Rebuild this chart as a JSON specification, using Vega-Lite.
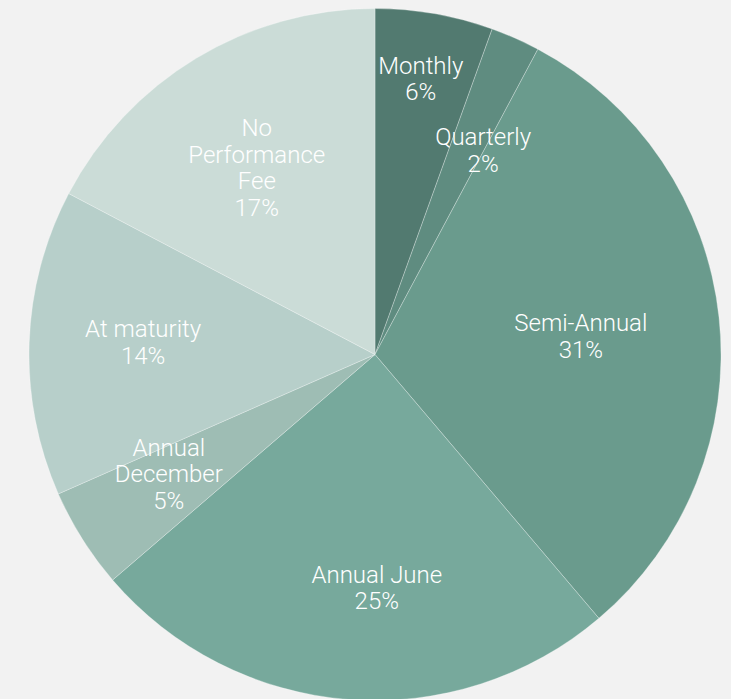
{
  "$schema": "https://vega.github.io/schema/vega-lite/v6.json",
  "width": 712,
  "height": 693,
  "padding": {"left": 19, "top": 6, "right": 0, "bottom": 0},
  "background": "#f2f2f2",
  "view": {"stroke": null},
  "config": {
    "text": {"font": "Roboto", "fontWeight": 300, "fontSize": 24, "lineBreak": "\n", "lineHeight": 26.5, "align": "center", "baseline": "middle", "color": "#ffffff"}
  },
  "data": {
    "values": [
      {"order": 1, "category": "Monthly", "name": "Monthly", "share": 5.5, "pct": "6%"},
      {"order": 2, "category": "Quarterly", "name": "Quarterly", "share": 2.3, "pct": "2%"},
      {"order": 3, "category": "Semi-Annual", "name": "Semi-Annual", "share": 31.0, "pct": "31%"},
      {"order": 4, "category": "Annual June", "name": "Annual June", "share": 24.9, "pct": "25%"},
      {"order": 5, "category": "Annual December", "name": "Annual\nDecember", "share": 4.7, "pct": "5%"},
      {"order": 6, "category": "At maturity", "name": "At maturity", "share": 14.3, "pct": "14%"},
      {"order": 7, "category": "No Performance Fee", "name": "No\nPerformance\nFee", "share": 17.3, "pct": "17%"}
    ]
  },
  "transform": [
    {"stack": "share", "groupby": [], "sort": [{"field": "order", "order": "ascending"}], "as": ["s0", "s1"]},
    {"calculate": "(datum.s0 + datum.s1) / 2", "as": "smid"},
    {"calculate": "datum.name + '\\n' + datum.pct", "as": "label"}
  ],
  "layer": [
    {
      "mark": {"type": "arc", "outerRadius": 346, "stroke": "#ffffff", "strokeWidth": 0.8, "strokeOpacity": 0.35},
      "encoding": {
        "theta": {"field": "s0", "type": "quantitative", "scale": {"domain": [0, 100]}},
        "theta2": {"field": "s1"},
        "color": {
          "field": "category",
          "type": "nominal",
          "legend": null,
          "scale": {
            "domain": ["Monthly", "Quarterly", "Semi-Annual", "Annual June", "Annual December", "At maturity", "No Performance Fee"],
            "range": ["#527a70", "#5f8c80", "#6a9b8d", "#77a99c", "#9ebdb4", "#b7cfca", "#cbdcd7"]
          }
        }
      }
    },
    {
      "transform": [{"filter": "datum.category == 'Monthly'"}],
      "mark": {"type": "text", "radius": 278, "dy": -14, "dx": -2},
      "encoding": {"theta": {"field": "smid", "type": "quantitative", "scale": {"domain": [0, 100]}}, "text": {"field": "label"}}
    },
    {
      "transform": [{"filter": "datum.category == 'Quarterly'"}],
      "mark": {"type": "text", "radius": 232, "dy": -4, "dx": 14},
      "encoding": {"theta": {"field": "smid", "type": "quantitative", "scale": {"domain": [0, 100]}}, "text": {"field": "label"}}
    },
    {
      "transform": [{"filter": "datum.category == 'Semi-Annual'"}],
      "mark": {"type": "text", "radius": 207, "dy": -8},
      "encoding": {"theta": {"field": "smid", "type": "quantitative", "scale": {"domain": [0, 100]}}, "text": {"field": "label"}}
    },
    {
      "transform": [{"filter": "datum.category == 'Annual June'"}],
      "mark": {"type": "text", "radius": 232, "dy": -10, "dx": 20},
      "encoding": {"theta": {"field": "smid", "type": "quantitative", "scale": {"domain": [0, 100]}}, "text": {"field": "label"}}
    },
    {
      "transform": [{"filter": "datum.category == 'Annual December'"}],
      "mark": {"type": "text", "radius": 239, "dy": -33, "dx": -4},
      "encoding": {"theta": {"field": "smid", "type": "quantitative", "scale": {"domain": [0, 100]}}, "text": {"field": "label"}}
    },
    {
      "transform": [{"filter": "datum.category == 'At maturity'"}],
      "mark": {"type": "text", "radius": 232, "dy": -16},
      "encoding": {"theta": {"field": "smid", "type": "quantitative", "scale": {"domain": [0, 100]}}, "text": {"field": "label"}}
    },
    {
      "transform": [{"filter": "datum.category == 'No Performance Fee'"}],
      "mark": {"type": "text", "radius": 219, "dy": -38, "dx": -5},
      "encoding": {"theta": {"field": "smid", "type": "quantitative", "scale": {"domain": [0, 100]}}, "text": {"field": "label"}}
    }
  ]
}
